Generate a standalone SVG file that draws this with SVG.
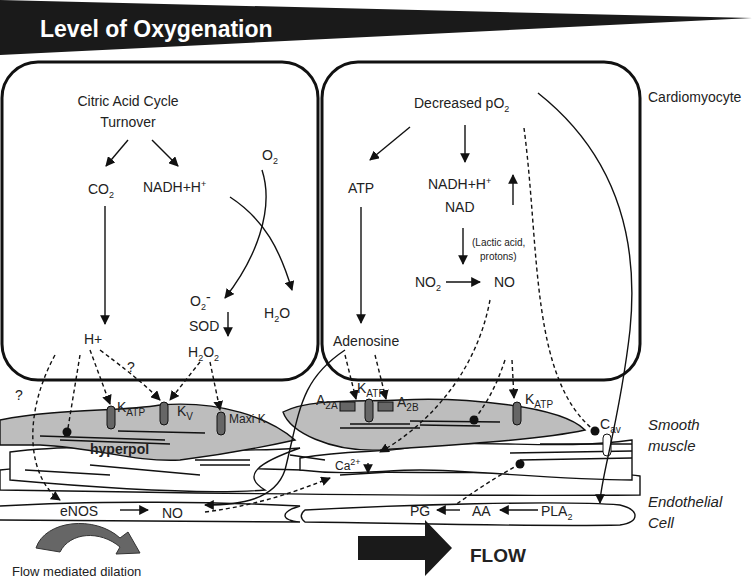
<svg xmlns="http://www.w3.org/2000/svg" width="752" height="582" viewBox="0 0 752 582">
<defs>
<marker id="ah" viewBox="0 0 10 10" refX="9" refY="5" markerWidth="7" markerHeight="7" orient="auto-start-reverse"><path d="M0,0 L10,5 L0,10 z" fill="#111"/></marker>
<style>
text{font-family:"Liberation Sans",Arial,sans-serif;font-size:14px;fill:#222}
.box{fill:none;stroke:#111;stroke-width:3}
.a{fill:none;stroke:#111;stroke-width:1.4;marker-end:url(#ah)}
.d{fill:none;stroke:#111;stroke-width:1.4;stroke-dasharray:4 3;marker-end:url(#ah)}
.dn{fill:none;stroke:#111;stroke-width:1.4;stroke-dasharray:4 3}
.l{fill:none;stroke:#111;stroke-width:1.4}
.sm{fill:#bdbdbd;stroke:#111;stroke-width:1.4}
.cell{fill:#fff;stroke:#111;stroke-width:1.4}
.ch{fill:#666;stroke:#111;stroke-width:1}
.it{font-style:italic;font-size:15px}
.s{font-size:9px}
</style>
</defs>
<g id="banner"><path d="M0,0 L752,18 L0,55 z" fill="#1a1a1a"/><text x="40" y="37" style="font-size:23px;font-weight:bold;fill:#fff">Level of Oxygenation</text></g>

<g id="tissue">
<path class="cell" d="M0,470 C100,460 250,470 380,472 C500,474 600,470 640,476 L640,495 C500,496 300,495 0,490 z"/>
<path class="cell" d="M10,452 C100,440 220,455 300,448 C260,462 240,475 265,490 C200,495 100,488 10,480 z"/>
<path class="sm" d="M0,420 C60,408 120,412 160,405 C220,400 270,418 295,440 C250,450 220,455 180,460 C130,462 100,448 40,445 L0,445 z"/>
<path class="cell" d="M300,458 C360,448 380,455 420,445 C500,440 560,450 632,440 L632,480 C560,480 470,470 420,470 C380,470 350,476 300,470 z"/>
<path class="sm" d="M283,412 C310,398 360,402 400,400 C460,397 560,405 585,430 C540,440 450,445 380,450 C330,452 290,432 283,412 z"/>
<path class="l" d="M40,436 L165,440 M118,431 L205,433 M60,440 L170,444 M340,428 L420,428 M350,424 L410,424 M410,421 L500,422 M420,425 L480,426 M25,470 L110,475 M90,465 L200,475 M195,460 L250,460 M200,465 L250,465 M290,455 L325,460 M340,475 L390,472 M510,453 L632,451 M520,460 L632,458 M540,444 L632,444"/>
</g>

<g id="endo">
<path class="cell" d="M0,506 C100,500 220,502 300,506 C280,512 280,520 300,522 L0,520"/>
<path class="cell" d="M305,510 C400,505 560,500 620,505 C640,510 640,522 620,525 C540,527 400,523 305,522 C300,518 300,514 305,510 z"/>
</g>

<g id="leftbox">
<rect class="box" x="2" y="62" width="316" height="318" rx="36"/>
<text x="128" y="106" text-anchor="middle">Citric Acid Cycle</text>
<text x="128" y="127" text-anchor="middle">Turnover</text>
<text x="88" y="194">CO<tspan dy="4" class="s">2</tspan></text>
<text x="143" y="192">NADH+H<tspan dy="-5" class="s">+</tspan></text>
<text x="262" y="160">O<tspan dy="4" class="s">2</tspan></text>
<text x="264" y="318">H<tspan dy="4" class="s">2</tspan><tspan dy="-4">O</tspan></text>
<text x="190" y="306">O<tspan dy="4" class="s">2</tspan><tspan dy="-8">-</tspan></text>
<text x="189" y="331">SOD</text>
<text x="188" y="357">H<tspan dy="4" class="s">2</tspan><tspan dy="-4">O</tspan><tspan dy="4" class="s">2</tspan></text>
<text x="84" y="344">H+</text>
</g>

<g id="rightbox">
<rect class="box" x="322" y="62" width="318" height="318" rx="36"/>
<text x="414" y="108">Decreased pO<tspan dy="4" class="s">2</tspan></text>
<text x="348" y="193">ATP</text>
<text x="428" y="189">NADH+H<tspan dy="-5" class="s">+</tspan></text>
<text x="445" y="212">NAD</text>
<text x="472" y="246" style="font-size:10px">(Lactic acid,</text>
<text x="480" y="260" style="font-size:10px">protons)</text>
<text x="415" y="287">NO<tspan dy="4" class="s">2</tspan></text>
<text x="494" y="287">NO</text>
<text x="333" y="346">Adenosine</text>
<text x="648" y="102">Cardiomyocyte</text>
</g>

<g id="channels">
<rect class="ch" x="107" y="406" width="8" height="23" rx="4"/>
<rect class="ch" x="160" y="402" width="8" height="23" rx="4"/>
<rect class="ch" x="217" y="412" width="8" height="23" rx="4"/>
<rect class="ch" x="340" y="402" width="15" height="9"/>
<rect class="ch" x="365" y="399" width="8" height="23" rx="4"/>
<rect class="ch" x="378" y="402" width="15" height="9"/>
<rect class="ch" x="513" y="402" width="8" height="23" rx="4"/>
<rect x="603" y="434" width="8" height="22" rx="4" fill="#fff" stroke="#111"/>
<circle cx="67" cy="432" r="4.5" fill="#111"/>
<circle cx="474" cy="420" r="4.5" fill="#111"/>
<circle cx="595" cy="431" r="4.5" fill="#111"/>
<circle cx="520" cy="464" r="4.5" fill="#111"/>
<text x="117" y="412">K<tspan dy="4" style="font-size:10px">ATP</tspan></text>
<text x="177" y="416">K<tspan dy="4" style="font-size:10px">V</tspan></text>
<text x="229" y="423" style="font-size:12px">Maxi K</text>
<text x="316" y="405">A<tspan dy="4" style="font-size:10px">2A</tspan></text>
<text x="357" y="393">K<tspan dy="4" style="font-size:10px">ATP</tspan></text>
<text x="397" y="407">A<tspan dy="4" style="font-size:10px">2B</tspan></text>
<text x="525" y="404">K<tspan dy="4" style="font-size:10px">ATP</tspan></text>
<text x="600" y="429">C<tspan dy="4" style="font-size:10px">av</tspan></text>
<text x="90" y="454" style="font-weight:bold">hyperpol</text>
<text x="335" y="470" style="font-size:12px">Ca<tspan dy="-5" class="s">2+</tspan></text>
<path class="a" d="M368,463 L368,473"/>
<text x="15" y="400">?</text>
<text x="127" y="372">?</text>
</g>

<g id="labels">
<text x="60" y="516">eNOS</text>
<text x="162" y="518">NO</text>
<text x="410" y="516">PG</text>
<text x="472" y="516">AA</text>
<text x="541" y="516">PLA<tspan dy="4" class="s">2</tspan></text>
<text x="648" y="430" class="it">Smooth</text>
<text x="648" y="451" class="it">muscle</text>
<text x="648" y="507" class="it">Endothelial</text>
<text x="648" y="528" class="it">Cell</text>
<text x="12" y="576" style="font-size:13px">Flow mediated dilation</text>
<text x="470" y="562" style="font-size:19px;font-weight:bold">FLOW</text>
<path d="M358,536 L425,536 L425,520 L452,548 L425,576 L425,560 L358,560 z" fill="#1a1a1a"/>
<path d="M36,548 C45,520 95,515 120,538 L128,532 L140,553 L116,554 L120,547 C100,530 70,532 60,552 z" fill="#666" stroke="#333"/>
</g>

<g id="connectors">
<path class="a" d="M128,140 L106,166"/>
<path class="a" d="M152,140 L178,166"/>
<path class="a" d="M105,206 L105,324"/>
<path class="a" d="M230,197 C265,220 280,250 292,290"/>
<path class="a" d="M262,170 C275,210 255,260 225,298"/>
<path class="a" d="M228,312 L228,336"/>
<path class="a" d="M410,127 L370,160"/>
<path class="a" d="M465,125 L465,162"/>
<path class="a" d="M513,205 L513,175"/>
<path class="a" d="M463,228 L463,264"/>
<path class="a" d="M446,282 L480,282"/>
<path class="a" d="M361,207 L361,323"/>
<path class="a" d="M120,510 L148,510"/>
<path class="a" d="M460,510 L437,510"/>
<path class="a" d="M538,510 L500,510"/>
<path class="a" d="M538,93 C610,150 640,230 630,330 C620,420 600,480 600,503"/>
<path class="a" d="M345,350 C300,380 300,410 285,470 C275,500 240,505 205,505"/>
<path class="d" d="M90,350 L110,404"/>
<path class="d" d="M100,350 C140,380 150,390 160,400"/>
<path class="d" d="M200,362 L170,400"/>
<path class="d" d="M210,362 L220,410"/>
<path class="dn" d="M80,355 L68,428"/>
<path class="d" d="M55,355 C20,420 30,480 60,500"/>
<path class="d" d="M345,355 L356,399"/>
<path class="d" d="M375,355 L386,399"/>
<path class="d" d="M512,360 L514,398"/>
<path class="dn" d="M524,128 C540,250 530,380 595,431"/>
<path class="d" d="M490,300 C475,380 420,430 380,452"/>
<path class="dn" d="M505,360 C495,390 485,405 474,420"/>
<path class="d" d="M205,512 C260,505 300,490 330,478"/>
<path class="dn" d="M520,464 C490,480 470,495 455,505"/>
</g>
</svg>
